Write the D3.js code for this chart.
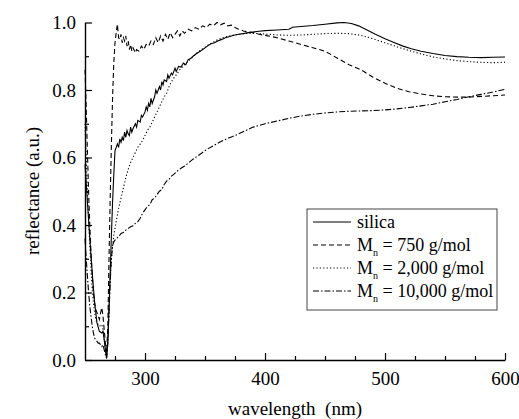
<!DOCTYPE html>
<html>
<head>
<meta charset="utf-8">
<title>reflectance spectra</title>
<script src="https://d3js.org/d3.v7.min.js"></script>
<style>
  body { margin: 0; background: #fff; }
</style>
</head>
<body>
<svg id="chart" width="519" height="419"></svg>
<script>
// [wavelength nm, reflectance]
const silica = [[250,0.58],[252,0.47],[254,0.36],[256,0.26],[258,0.17],[260,0.11],[262,0.085],[264,0.08],[265,0.085],[266,0.06],[267,0.03],[268,0.005],[269,0.05],[270,0.15],[271,0.26],[272,0.37],[273,0.47],[274,0.55],[275,0.62],[276,0.63],[277,0.64],[278,0.63],[279,0.655],[280,0.645],[281,0.66],[282,0.65],[283,0.675],[284,0.66],[285,0.68],[286,0.67],[287,0.665],[288,0.69],[289,0.675],[290,0.685],[292,0.7],[293,0.69],[294,0.71],[296,0.705],[297,0.725],[298,0.72],[300,0.735],[301,0.75],[302,0.74],[303,0.76],[304,0.75],[305,0.775],[306,0.76],[308,0.78],[309,0.8],[310,0.79],[312,0.81],[313,0.8],[314,0.825],[315,0.815],[316,0.83],[318,0.825],[319,0.845],[320,0.835],[322,0.85],[323,0.845],[325,0.865],[326,0.855],[328,0.87],[330,0.868],[332,0.88],[334,0.875],[336,0.89],[338,0.893],[340,0.9],[343,0.908],[346,0.915],[349,0.922],[352,0.93],[355,0.937],[358,0.94],[361,0.946],[364,0.95],[367,0.955],[370,0.958],[374,0.962],[378,0.965],[382,0.967],[386,0.97],[390,0.972],[395,0.974],[400,0.976],[410,0.978],[420,0.98],[423,0.986],[430,0.988],[440,0.991],[450,0.995],[460,0.999],[466,1.0],[472,0.997],[478,0.99],[485,0.978],[492,0.965],[500,0.952],[508,0.94],[515,0.93],[522,0.922],[530,0.915],[540,0.908],[550,0.902],[560,0.899],[570,0.897],[580,0.896],[590,0.897],[600,0.898]];

const mn750 = [[250,0.86],[251,0.75],[252,0.62],[253,0.5],[254,0.4],[255,0.32],[256,0.25],[257,0.2],[258,0.17],[259,0.15],[260,0.14],[261,0.13],[262,0.12],[263,0.14],[264,0.155],[265,0.13],[266,0.09],[267,0.05],[268,0.02],[269,0.1],[270,0.3],[271,0.48],[272,0.64],[273,0.78],[274,0.88],[275,0.94],[276,0.97],[277,0.995],[278,0.955],[279,0.95],[280,0.965],[281,0.94],[282,0.955],[283,0.945],[284,0.96],[285,0.93],[286,0.945],[287,0.92],[288,0.935],[289,0.915],[290,0.925],[292,0.91],[293,0.92],[295,0.915],[297,0.93],[299,0.92],[301,0.935],[303,0.93],[305,0.945],[307,0.935],[309,0.955],[311,0.94],[313,0.96],[315,0.945],[317,0.965],[319,0.95],[321,0.97],[323,0.955],[325,0.965],[327,0.975],[329,0.96],[331,0.975],[333,0.968],[336,0.98],[339,0.975],[342,0.985],[345,0.98],[348,0.99],[351,0.985],[354,0.995],[357,0.99],[360,1.0],[363,0.993],[366,0.998],[369,0.99],[372,0.992],[375,0.985],[378,0.98],[382,0.975],[386,0.972],[390,0.97],[395,0.965],[400,0.962],[410,0.955],[420,0.945],[430,0.935],[440,0.925],[450,0.915],[460,0.895],[470,0.875],[480,0.86],[490,0.838],[500,0.82],[510,0.805],[520,0.795],[530,0.788],[540,0.783],[550,0.78],[560,0.779],[570,0.779],[580,0.781],[590,0.783],[600,0.785]];

const mn2000 = [[250,0.7],[251,0.6],[252,0.5],[253,0.42],[254,0.34],[255,0.27],[256,0.21],[257,0.17],[258,0.14],[259,0.12],[260,0.11],[262,0.1],[264,0.105],[265,0.09],[266,0.06],[267,0.03],[268,0.01],[269,0.06],[270,0.15],[271,0.24],[272,0.3],[273,0.34],[274,0.37],[275,0.39],[276,0.41],[277,0.43],[278,0.45],[280,0.48],[282,0.51],[284,0.54],[286,0.565],[288,0.585],[290,0.6],[292,0.615],[294,0.63],[296,0.64],[298,0.65],[300,0.665],[302,0.68],[304,0.69],[306,0.705],[308,0.72],[310,0.735],[312,0.75],[314,0.765],[316,0.78],[318,0.79],[320,0.81],[323,0.83],[326,0.845],[329,0.86],[332,0.872],[335,0.882],[338,0.892],[341,0.902],[344,0.912],[348,0.922],[352,0.932],[356,0.94],[360,0.948],[365,0.955],[370,0.96],[376,0.964],[382,0.967],[390,0.968],[400,0.966],[410,0.963],[420,0.962],[430,0.963],[440,0.965],[450,0.967],[460,0.968],[470,0.967],[480,0.962],[490,0.952],[500,0.94],[510,0.928],[520,0.917],[530,0.907],[540,0.898],[550,0.892],[560,0.887],[570,0.884],[580,0.882],[590,0.881],[600,0.882]];

const mn10000 = [[250,0.36],[251,0.3],[252,0.25],[253,0.2],[254,0.16],[255,0.13],[256,0.1],[257,0.08],[258,0.065],[259,0.06],[260,0.055],[261,0.05],[262,0.05],[263,0.045],[264,0.04],[265,0.045],[266,0.03],[267,0.015],[268,0.005],[269,0.05],[270,0.14],[271,0.23],[272,0.3],[273,0.34],[274,0.35],[275,0.355],[276,0.36],[278,0.365],[280,0.375],[282,0.378],[284,0.385],[286,0.39],[288,0.395],[290,0.398],[292,0.405],[294,0.41],[296,0.42],[298,0.435],[300,0.445],[302,0.455],[304,0.46],[306,0.475],[308,0.48],[310,0.49],[312,0.5],[314,0.505],[316,0.52],[318,0.53],[320,0.535],[322,0.545],[324,0.55],[327,0.56],[330,0.568],[333,0.575],[336,0.583],[340,0.595],[344,0.605],[348,0.615],[352,0.625],[357,0.635],[362,0.645],[368,0.655],[373,0.662],[378,0.67],[384,0.68],[390,0.69],[395,0.695],[400,0.7],[410,0.708],[420,0.716],[430,0.723],[440,0.728],[450,0.732],[460,0.735],[470,0.737],[480,0.738],[490,0.739],[500,0.741],[510,0.744],[520,0.748],[530,0.753],[540,0.758],[550,0.765],[560,0.772],[570,0.78],[580,0.787],[590,0.794],[600,0.802]];

const seriesNames = ["silica", "750 g/mol", "2,000 g/mol", "10,000 g/mol"];
const seriesDash = ["none", "5,3", "1.2,2.2", "6,2,1.5,2"];
const seriesData = [silica, mn750, mn2000, mn10000];

const xMajor = [300, 400, 500, 600];
const xMinor = [275, 325, 350, 375, 425, 450, 475, 525, 550, 575];
const yMajor = [0, 0.2, 0.4, 0.6, 0.8, 1.0];
const yMinor = [0.1, 0.3, 0.5, 0.7, 0.9];

const serif = '"Liberation Serif", monospace';
const svg = d3.select("#chart");

const x = d3.scaleLinear().domain([250, 600]).range([85, 505]);
const y = d3.scaleLinear().domain([0, 1]).range([360, 22.5]);

// minor ticks first, then major axes with labels
svg.append("g")
    .attr("transform", "translate(0,360)")
    .call(d3.axisBottom(x).tickValues(xMinor).tickSize(-4).tickFormat(""))
    .call(g => g.select(".domain").remove());
svg.append("g")
    .attr("transform", "translate(85,0)")
    .call(d3.axisLeft(y).tickValues(yMinor).tickSize(-4).tickFormat(""))
    .call(g => g.select(".domain").remove());

const xAxis = svg.append("g")
    .attr("transform", "translate(0,360)")
    .call(d3.axisBottom(x).tickValues(xMajor).tickSizeInner(-7).tickSizeOuter(0).tickPadding(12));
const yAxis = svg.append("g")
    .attr("transform", "translate(85,0)")
    .call(d3.axisLeft(y).tickValues(yMajor).tickSizeInner(-7).tickSizeOuter(0).tickPadding(9).tickFormat(d3.format(".1f")));

[xAxis, yAxis].forEach(g => {
    g.selectAll("text").style("font-family", serif).style("font-size", "19px");
    g.select(".domain").attr("stroke-width", 1.4);
});
svg.selectAll(".tick line").attr("stroke", "#000").attr("stroke-width", 1.2);

// curves
const line = d3.line().x(d => x(d[0])).y(d => y(d[1]));
svg.append("g").selectAll("path")
    .data(seriesData)
    .join("path")
    .attr("d", d => line(d))
    .attr("fill", "none")
    .attr("stroke", "#000")
    .attr("stroke-width", 1.1)
    .attr("stroke-dasharray", (d, i) => seriesDash[i]);

// axis titles
svg.append("text")
    .attr("x", 295).attr("y", 415)
    .attr("text-anchor", "middle")
    .style("font-family", serif).style("font-size", "19px")
    .style("white-space", "pre")
    .text("wavelength  (nm)");
svg.append("text")
    .attr("transform", "translate(39,191) rotate(-90)")
    .attr("text-anchor", "middle")
    .style("font-family", serif).style("font-size", "19px")
    .text("reflectance (a.u.)");

// legend
const legend = svg.append("g");
legend.append("rect")
    .attr("x", 307).attr("y", 209).attr("width", 190).attr("height", 101)
    .attr("fill", "#fff").attr("stroke", "#444").attr("stroke-width", 1);

const rowY = d3.scalePoint().domain(seriesNames).range([222, 291]);
seriesNames.forEach((name, i) => {
    const yy = rowY(name);
    legend.append("line")
        .attr("x1", 313).attr("x2", 351).attr("y1", yy).attr("y2", yy)
        .attr("stroke", "#000").attr("stroke-width", 1.1)
        .attr("stroke-dasharray", seriesDash[i]);
    const t = legend.append("text")
        .attr("x", 357).attr("y", yy + 6)
        .style("font-family", serif).style("font-size", "18px");
    if (i === 0) {
        t.text(name);
    } else {
        t.append("tspan").text("M");
        t.append("tspan").attr("dy", 5).style("font-size", "10px").text("n");
        t.append("tspan").attr("dy", -5).text(" = " + name);
    }
});
</script>
</body>
</html>
